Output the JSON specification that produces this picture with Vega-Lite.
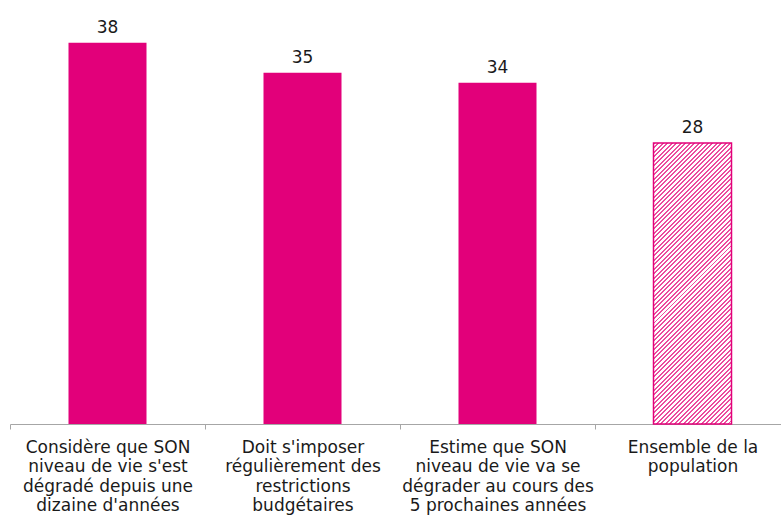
{
  "$schema": "https://vega.github.io/schema/vega-lite/v6.json",
  "width": 780,
  "height": 424,
  "autosize": {"type": "none"},
  "padding": {"left": 10, "top": 0, "right": 0, "bottom": 94},
  "background": "#ffffff",
  "config": {"view": {"stroke": null}, "font": "DejaVu Sans"},
  "data": {"values": [
    {"cat": "Considère que SON|niveau de vie s'est|dégradé depuis une|dizaine d'années", "value": 38, "group": "sub"},
    {"cat": "Doit s'imposer|régulièrement des|restrictions|budgétaires", "value": 35, "group": "sub"},
    {"cat": "Estime que SON|niveau de vie va se|dégrader au cours des|5 prochaines années", "value": 34, "group": "sub"},
    {"cat": "Ensemble de la|population", "value": 28, "group": "total"}
  ]},
  "encoding": {
    "x": {"field": "cat", "type": "nominal", "sort": null,
      "scale": {"paddingInner": 0, "paddingOuter": 0},
      "axis": {"title": null, "labelAngle": 0, "labelExpr": "isString(datum.value) ? split(datum.value, '|') : ''",
        "labelFont": "DejaVu Sans", "labelFontSize": 17, "labelColor": "#1a1a1a",
        "labelLineHeight": 19.5, "labelPadding": 10, "labelLimit": 400,
        "domainColor": "#a6a6a6", "tickColor": "#a6a6a6", "tickSize": 5, "tickBand": "extent"}},
    "y": {"field": "value", "type": "quantitative", "scale": {"domain": [0, 42.25], "nice": false}, "axis": null}
  },
  "layer": [
    {"transform": [{"filter": "datum.group === 'sub'"}],
     "mark": {"type": "bar", "width": {"band": 0.4}, "color": "#e2007a"}},
    {"transform": [{"filter": "datum.group === 'total'"}],
     "mark": {"type": "bar", "width": {"band": 0.4}, "stroke": "#e2007a", "strokeWidth": 1.5,
       "fill": {"gradient": "linear", "x1": 0, "y1": 0, "x2": 0.3293, "y2": 1.1862, "stops": [
{"offset":0,"color":"#ec4c9e"},{"offset":0.0055,"color":"#ec4c9e"},{"offset":0.0055,"color":"#fff"},{"offset":0.0125,"color":"#fff"},
{"offset":0.0125,"color":"#ec4c9e"},{"offset":0.018,"color":"#ec4c9e"},{"offset":0.018,"color":"#fff"},{"offset":0.025,"color":"#fff"},
{"offset":0.025,"color":"#ec4c9e"},{"offset":0.0305,"color":"#ec4c9e"},{"offset":0.0305,"color":"#fff"},{"offset":0.0375,"color":"#fff"},
{"offset":0.0375,"color":"#ec4c9e"},{"offset":0.043,"color":"#ec4c9e"},{"offset":0.043,"color":"#fff"},{"offset":0.05,"color":"#fff"},
{"offset":0.05,"color":"#ec4c9e"},{"offset":0.0555,"color":"#ec4c9e"},{"offset":0.0555,"color":"#fff"},{"offset":0.0625,"color":"#fff"},
{"offset":0.0625,"color":"#ec4c9e"},{"offset":0.068,"color":"#ec4c9e"},{"offset":0.068,"color":"#fff"},{"offset":0.075,"color":"#fff"},
{"offset":0.075,"color":"#ec4c9e"},{"offset":0.0805,"color":"#ec4c9e"},{"offset":0.0805,"color":"#fff"},{"offset":0.0875,"color":"#fff"},
{"offset":0.0875,"color":"#ec4c9e"},{"offset":0.093,"color":"#ec4c9e"},{"offset":0.093,"color":"#fff"},{"offset":0.1,"color":"#fff"},
{"offset":0.1,"color":"#ec4c9e"},{"offset":0.1055,"color":"#ec4c9e"},{"offset":0.1055,"color":"#fff"},{"offset":0.1125,"color":"#fff"},
{"offset":0.1125,"color":"#ec4c9e"},{"offset":0.118,"color":"#ec4c9e"},{"offset":0.118,"color":"#fff"},{"offset":0.125,"color":"#fff"},
{"offset":0.125,"color":"#ec4c9e"},{"offset":0.1305,"color":"#ec4c9e"},{"offset":0.1305,"color":"#fff"},{"offset":0.1375,"color":"#fff"},
{"offset":0.1375,"color":"#ec4c9e"},{"offset":0.143,"color":"#ec4c9e"},{"offset":0.143,"color":"#fff"},{"offset":0.15,"color":"#fff"},
{"offset":0.15,"color":"#ec4c9e"},{"offset":0.1555,"color":"#ec4c9e"},{"offset":0.1555,"color":"#fff"},{"offset":0.1625,"color":"#fff"},
{"offset":0.1625,"color":"#ec4c9e"},{"offset":0.168,"color":"#ec4c9e"},{"offset":0.168,"color":"#fff"},{"offset":0.175,"color":"#fff"},
{"offset":0.175,"color":"#ec4c9e"},{"offset":0.1805,"color":"#ec4c9e"},{"offset":0.1805,"color":"#fff"},{"offset":0.1875,"color":"#fff"},
{"offset":0.1875,"color":"#ec4c9e"},{"offset":0.193,"color":"#ec4c9e"},{"offset":0.193,"color":"#fff"},{"offset":0.2,"color":"#fff"},
{"offset":0.2,"color":"#ec4c9e"},{"offset":0.2055,"color":"#ec4c9e"},{"offset":0.2055,"color":"#fff"},{"offset":0.2125,"color":"#fff"},
{"offset":0.2125,"color":"#ec4c9e"},{"offset":0.218,"color":"#ec4c9e"},{"offset":0.218,"color":"#fff"},{"offset":0.225,"color":"#fff"},
{"offset":0.225,"color":"#ec4c9e"},{"offset":0.2305,"color":"#ec4c9e"},{"offset":0.2305,"color":"#fff"},{"offset":0.2375,"color":"#fff"},
{"offset":0.2375,"color":"#ec4c9e"},{"offset":0.243,"color":"#ec4c9e"},{"offset":0.243,"color":"#fff"},{"offset":0.25,"color":"#fff"},
{"offset":0.25,"color":"#ec4c9e"},{"offset":0.2555,"color":"#ec4c9e"},{"offset":0.2555,"color":"#fff"},{"offset":0.2625,"color":"#fff"},
{"offset":0.2625,"color":"#ec4c9e"},{"offset":0.268,"color":"#ec4c9e"},{"offset":0.268,"color":"#fff"},{"offset":0.275,"color":"#fff"},
{"offset":0.275,"color":"#ec4c9e"},{"offset":0.2805,"color":"#ec4c9e"},{"offset":0.2805,"color":"#fff"},{"offset":0.2875,"color":"#fff"},
{"offset":0.2875,"color":"#ec4c9e"},{"offset":0.293,"color":"#ec4c9e"},{"offset":0.293,"color":"#fff"},{"offset":0.3,"color":"#fff"},
{"offset":0.3,"color":"#ec4c9e"},{"offset":0.3055,"color":"#ec4c9e"},{"offset":0.3055,"color":"#fff"},{"offset":0.3125,"color":"#fff"},
{"offset":0.3125,"color":"#ec4c9e"},{"offset":0.318,"color":"#ec4c9e"},{"offset":0.318,"color":"#fff"},{"offset":0.325,"color":"#fff"},
{"offset":0.325,"color":"#ec4c9e"},{"offset":0.3305,"color":"#ec4c9e"},{"offset":0.3305,"color":"#fff"},{"offset":0.3375,"color":"#fff"},
{"offset":0.3375,"color":"#ec4c9e"},{"offset":0.343,"color":"#ec4c9e"},{"offset":0.343,"color":"#fff"},{"offset":0.35,"color":"#fff"},
{"offset":0.35,"color":"#ec4c9e"},{"offset":0.3555,"color":"#ec4c9e"},{"offset":0.3555,"color":"#fff"},{"offset":0.3625,"color":"#fff"},
{"offset":0.3625,"color":"#ec4c9e"},{"offset":0.368,"color":"#ec4c9e"},{"offset":0.368,"color":"#fff"},{"offset":0.375,"color":"#fff"},
{"offset":0.375,"color":"#ec4c9e"},{"offset":0.3805,"color":"#ec4c9e"},{"offset":0.3805,"color":"#fff"},{"offset":0.3875,"color":"#fff"},
{"offset":0.3875,"color":"#ec4c9e"},{"offset":0.393,"color":"#ec4c9e"},{"offset":0.393,"color":"#fff"},{"offset":0.4,"color":"#fff"},
{"offset":0.4,"color":"#ec4c9e"},{"offset":0.4055,"color":"#ec4c9e"},{"offset":0.4055,"color":"#fff"},{"offset":0.4125,"color":"#fff"},
{"offset":0.4125,"color":"#ec4c9e"},{"offset":0.418,"color":"#ec4c9e"},{"offset":0.418,"color":"#fff"},{"offset":0.425,"color":"#fff"},
{"offset":0.425,"color":"#ec4c9e"},{"offset":0.4305,"color":"#ec4c9e"},{"offset":0.4305,"color":"#fff"},{"offset":0.4375,"color":"#fff"},
{"offset":0.4375,"color":"#ec4c9e"},{"offset":0.443,"color":"#ec4c9e"},{"offset":0.443,"color":"#fff"},{"offset":0.45,"color":"#fff"},
{"offset":0.45,"color":"#ec4c9e"},{"offset":0.4555,"color":"#ec4c9e"},{"offset":0.4555,"color":"#fff"},{"offset":0.4625,"color":"#fff"},
{"offset":0.4625,"color":"#ec4c9e"},{"offset":0.468,"color":"#ec4c9e"},{"offset":0.468,"color":"#fff"},{"offset":0.475,"color":"#fff"},
{"offset":0.475,"color":"#ec4c9e"},{"offset":0.4805,"color":"#ec4c9e"},{"offset":0.4805,"color":"#fff"},{"offset":0.4875,"color":"#fff"},
{"offset":0.4875,"color":"#ec4c9e"},{"offset":0.493,"color":"#ec4c9e"},{"offset":0.493,"color":"#fff"},{"offset":0.5,"color":"#fff"},
{"offset":0.5,"color":"#ec4c9e"},{"offset":0.5055,"color":"#ec4c9e"},{"offset":0.5055,"color":"#fff"},{"offset":0.5125,"color":"#fff"},
{"offset":0.5125,"color":"#ec4c9e"},{"offset":0.518,"color":"#ec4c9e"},{"offset":0.518,"color":"#fff"},{"offset":0.525,"color":"#fff"},
{"offset":0.525,"color":"#ec4c9e"},{"offset":0.5305,"color":"#ec4c9e"},{"offset":0.5305,"color":"#fff"},{"offset":0.5375,"color":"#fff"},
{"offset":0.5375,"color":"#ec4c9e"},{"offset":0.543,"color":"#ec4c9e"},{"offset":0.543,"color":"#fff"},{"offset":0.55,"color":"#fff"},
{"offset":0.55,"color":"#ec4c9e"},{"offset":0.5555,"color":"#ec4c9e"},{"offset":0.5555,"color":"#fff"},{"offset":0.5625,"color":"#fff"},
{"offset":0.5625,"color":"#ec4c9e"},{"offset":0.568,"color":"#ec4c9e"},{"offset":0.568,"color":"#fff"},{"offset":0.575,"color":"#fff"},
{"offset":0.575,"color":"#ec4c9e"},{"offset":0.5805,"color":"#ec4c9e"},{"offset":0.5805,"color":"#fff"},{"offset":0.5875,"color":"#fff"},
{"offset":0.5875,"color":"#ec4c9e"},{"offset":0.593,"color":"#ec4c9e"},{"offset":0.593,"color":"#fff"},{"offset":0.6,"color":"#fff"},
{"offset":0.6,"color":"#ec4c9e"},{"offset":0.6055,"color":"#ec4c9e"},{"offset":0.6055,"color":"#fff"},{"offset":0.6125,"color":"#fff"},
{"offset":0.6125,"color":"#ec4c9e"},{"offset":0.618,"color":"#ec4c9e"},{"offset":0.618,"color":"#fff"},{"offset":0.625,"color":"#fff"},
{"offset":0.625,"color":"#ec4c9e"},{"offset":0.6305,"color":"#ec4c9e"},{"offset":0.6305,"color":"#fff"},{"offset":0.6375,"color":"#fff"},
{"offset":0.6375,"color":"#ec4c9e"},{"offset":0.643,"color":"#ec4c9e"},{"offset":0.643,"color":"#fff"},{"offset":0.65,"color":"#fff"},
{"offset":0.65,"color":"#ec4c9e"},{"offset":0.6555,"color":"#ec4c9e"},{"offset":0.6555,"color":"#fff"},{"offset":0.6625,"color":"#fff"},
{"offset":0.6625,"color":"#ec4c9e"},{"offset":0.668,"color":"#ec4c9e"},{"offset":0.668,"color":"#fff"},{"offset":0.675,"color":"#fff"},
{"offset":0.675,"color":"#ec4c9e"},{"offset":0.6805,"color":"#ec4c9e"},{"offset":0.6805,"color":"#fff"},{"offset":0.6875,"color":"#fff"},
{"offset":0.6875,"color":"#ec4c9e"},{"offset":0.693,"color":"#ec4c9e"},{"offset":0.693,"color":"#fff"},{"offset":0.7,"color":"#fff"},
{"offset":0.7,"color":"#ec4c9e"},{"offset":0.7055,"color":"#ec4c9e"},{"offset":0.7055,"color":"#fff"},{"offset":0.7125,"color":"#fff"},
{"offset":0.7125,"color":"#ec4c9e"},{"offset":0.718,"color":"#ec4c9e"},{"offset":0.718,"color":"#fff"},{"offset":0.725,"color":"#fff"},
{"offset":0.725,"color":"#ec4c9e"},{"offset":0.7305,"color":"#ec4c9e"},{"offset":0.7305,"color":"#fff"},{"offset":0.7375,"color":"#fff"},
{"offset":0.7375,"color":"#ec4c9e"},{"offset":0.743,"color":"#ec4c9e"},{"offset":0.743,"color":"#fff"},{"offset":0.75,"color":"#fff"},
{"offset":0.75,"color":"#ec4c9e"},{"offset":0.7555,"color":"#ec4c9e"},{"offset":0.7555,"color":"#fff"},{"offset":0.7625,"color":"#fff"},
{"offset":0.7625,"color":"#ec4c9e"},{"offset":0.768,"color":"#ec4c9e"},{"offset":0.768,"color":"#fff"},{"offset":0.775,"color":"#fff"},
{"offset":0.775,"color":"#ec4c9e"},{"offset":0.7805,"color":"#ec4c9e"},{"offset":0.7805,"color":"#fff"},{"offset":0.7875,"color":"#fff"},
{"offset":0.7875,"color":"#ec4c9e"},{"offset":0.793,"color":"#ec4c9e"},{"offset":0.793,"color":"#fff"},{"offset":0.8,"color":"#fff"},
{"offset":0.8,"color":"#ec4c9e"},{"offset":0.8055,"color":"#ec4c9e"},{"offset":0.8055,"color":"#fff"},{"offset":0.8125,"color":"#fff"},
{"offset":0.8125,"color":"#ec4c9e"},{"offset":0.818,"color":"#ec4c9e"},{"offset":0.818,"color":"#fff"},{"offset":0.825,"color":"#fff"},
{"offset":0.825,"color":"#ec4c9e"},{"offset":0.8305,"color":"#ec4c9e"},{"offset":0.8305,"color":"#fff"},{"offset":0.8375,"color":"#fff"},
{"offset":0.8375,"color":"#ec4c9e"},{"offset":0.843,"color":"#ec4c9e"},{"offset":0.843,"color":"#fff"},{"offset":0.85,"color":"#fff"},
{"offset":0.85,"color":"#ec4c9e"},{"offset":0.8555,"color":"#ec4c9e"},{"offset":0.8555,"color":"#fff"},{"offset":0.8625,"color":"#fff"},
{"offset":0.8625,"color":"#ec4c9e"},{"offset":0.868,"color":"#ec4c9e"},{"offset":0.868,"color":"#fff"},{"offset":0.875,"color":"#fff"},
{"offset":0.875,"color":"#ec4c9e"},{"offset":0.8805,"color":"#ec4c9e"},{"offset":0.8805,"color":"#fff"},{"offset":0.8875,"color":"#fff"},
{"offset":0.8875,"color":"#ec4c9e"},{"offset":0.893,"color":"#ec4c9e"},{"offset":0.893,"color":"#fff"},{"offset":0.9,"color":"#fff"},
{"offset":0.9,"color":"#ec4c9e"},{"offset":0.9055,"color":"#ec4c9e"},{"offset":0.9055,"color":"#fff"},{"offset":0.9125,"color":"#fff"},
{"offset":0.9125,"color":"#ec4c9e"},{"offset":0.918,"color":"#ec4c9e"},{"offset":0.918,"color":"#fff"},{"offset":0.925,"color":"#fff"},
{"offset":0.925,"color":"#ec4c9e"},{"offset":0.9305,"color":"#ec4c9e"},{"offset":0.9305,"color":"#fff"},{"offset":0.9375,"color":"#fff"},
{"offset":0.9375,"color":"#ec4c9e"},{"offset":0.943,"color":"#ec4c9e"},{"offset":0.943,"color":"#fff"},{"offset":0.95,"color":"#fff"},
{"offset":0.95,"color":"#ec4c9e"},{"offset":0.9555,"color":"#ec4c9e"},{"offset":0.9555,"color":"#fff"},{"offset":0.9625,"color":"#fff"},
{"offset":0.9625,"color":"#ec4c9e"},{"offset":0.968,"color":"#ec4c9e"},{"offset":0.968,"color":"#fff"},{"offset":0.975,"color":"#fff"},
{"offset":0.975,"color":"#ec4c9e"},{"offset":0.9805,"color":"#ec4c9e"},{"offset":0.9805,"color":"#fff"},{"offset":0.9875,"color":"#fff"},
{"offset":0.9875,"color":"#ec4c9e"},{"offset":0.993,"color":"#ec4c9e"},{"offset":0.993,"color":"#fff"},{"offset":1,"color":"#fff"}
       ]}}},
    {"mark": {"type": "text", "baseline": "alphabetic", "dy": -10, "font": "DejaVu Sans", "fontSize": 17, "color": "#1a1a1a"},
     "encoding": {"text": {"field": "value", "type": "quantitative"}}}
  ]
}
